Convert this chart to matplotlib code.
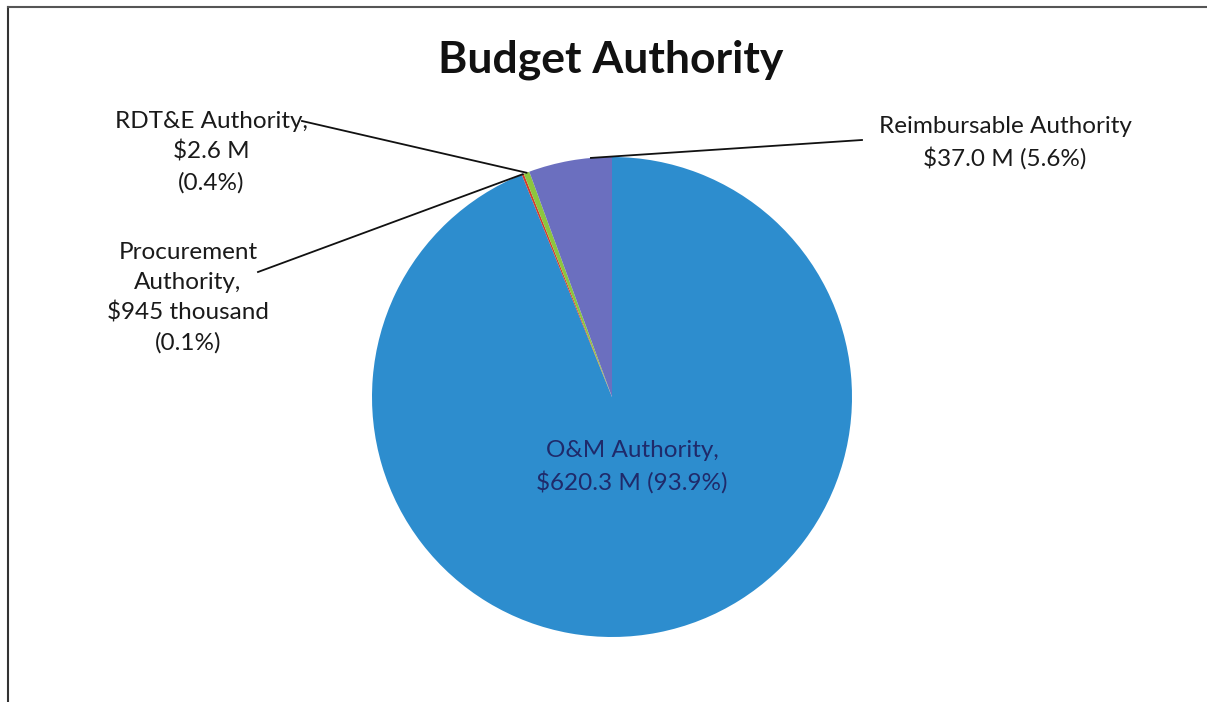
import matplotlib.pyplot as plt
import numpy as np

plt.rcParams['font.family'] = ['Lato', 'DejaVu Sans']

# slices in drawing order (clockwise from 12 o'clock)
categories = ['O&M Authority', 'Procurement Authority', 'RDT&E Authority', 'Reimbursable Authority']
values = [620.3, 0.945, 2.6, 37.0]  # $ M
colors = ['#2d8dce', '#d23a2c', '#8cc63e', '#6b6fbf']
label_texts = [
    'O&M Authority,\n$620.3 M (93.9%)',
    'Procurement\nAuthority,\n$945 thousand\n(0.1%)',
    'RDT&E Authority,\n$2.6 M\n(0.4%)',
    'Reimbursable Authority\n$37.0 M (5.6%)',
]

W, H = 1207, 702
fig = plt.figure(figsize=(W / 100, H / 100), dpi=100)
ax = fig.add_axes([0, 0, 1, 1])

cx, cy, r = 612, H - 397, 240
wedges, _ = ax.pie(values, colors=colors, startangle=90, counterclock=False,
                   center=(cx, cy), radius=r, frame=True,
                   wedgeprops=dict(linewidth=0))
ax.set_xlim(0, W)
ax.set_ylim(0, H)
ax.set_aspect('equal')
ax.axis('off')

# frame of the scanned chart area
ax.plot([8, 8], [0, H - 7], color='#333333', lw=1.5)
ax.plot([8, W], [H - 7, H - 7], color='#555555', lw=1.5)

ax.text(611, H - 60, 'Budget Authority', ha='center', va='center',
        fontsize=32, fontweight='bold', color='#111111')

# O&M label inside the slice
ax.text(632, H - 467, label_texts[0], ha='center', va='center',
        fontsize=17.5, color='#1f2a6a', linespacing=1.5)

def edge_point(w, frac=0.5):
    ang = np.deg2rad(w.theta1 + (w.theta2 - w.theta1) * frac)
    return cx + r * np.cos(ang), cy + r * np.sin(ang)

# outside labels with leader lines
lbl_pos = {1: (188, H - 298), 2: (211, H - 152), 3: (1005, H - 143)}
line_start = {1: (258, H - 272), 2: (302, H - 121), 3: (862, H - 140)}
for i in (1, 2, 3):
    ax.text(*lbl_pos[i], label_texts[i], ha='center', va='center',
            fontsize=17.5, color='#1a1a1a', linespacing=1.5)
    ex, ey = edge_point(wedges[i], 0.5 if i != 3 else 0.25)
    sx, sy = line_start[i]
    ax.plot([sx, ex], [sy, ey], color='#111111', lw=1.3)

fig.savefig('out.png', dpi=100)
